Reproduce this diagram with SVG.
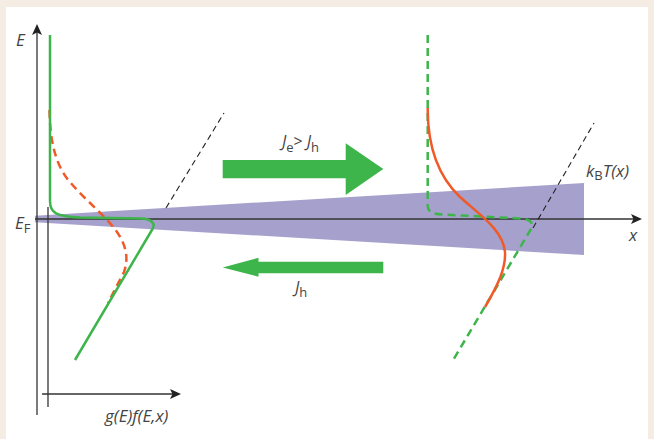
<svg xmlns="http://www.w3.org/2000/svg" width="654" height="439" viewBox="0 0 654 439">
<defs>
<style>
.ax{stroke:#333;stroke-width:1.3;fill:none}
.ah{fill:#222}
.g{stroke:#3db54a;stroke-width:2.5;fill:none;stroke-linecap:butt}
.gd{stroke:#3db54a;stroke-width:2.5;fill:none;stroke-dasharray:8 5}
.o{stroke:#f05a28;stroke-width:2.5;fill:none}
.od{stroke:#f05a28;stroke-width:2.5;fill:none;stroke-dasharray:8 5}
.kd{stroke:#222;stroke-width:1.1;fill:none;stroke-dasharray:6 4}
.big{fill:#3db54a}
text{font-family:"Open Sans","Liberation Sans",sans-serif;fill:#444}
.it{font-style:italic}
</style>
</defs>
<rect x="0" y="0" width="654" height="439" fill="#f5ece3"/>
<rect x="6" y="7" width="642" height="432" fill="#ffffff"/>
<g id="wedge">
<polygon points="35,215.8 584,183 584,255 35,222.2" fill="#a5a1cc"/>
</g>
<g id="axes">
<line class="ax" x1="37" y1="415" x2="37" y2="30"/>
<path class="ah" d="M37,24 L42,35 L37,32.5 L32,35 Z"/>
<line class="ax" x1="48" y1="207" x2="48" y2="407"/>
<line class="ax" x1="42" y1="394" x2="175" y2="394"/>
<path class="ah" d="M181,394 L170,399 L172.5,394 L170,389 Z"/>
<line class="ax" x1="35" y1="219" x2="636" y2="219"/>
<path class="ah" d="M642,219 L631,224 L633.5,219 L631,214 Z"/>
</g>
<g id="connectors">
<line class="kd" x1="166" y1="208" x2="224" y2="113"/>
<line class="kd" x1="533" y1="228" x2="594" y2="123"/>
</g>
<g id="left-curves">
<path class="od" d="M49.5,110 C50,140 55,165 70,182 C85,200 105,215 117,232 C126,245 129,258 124,272 L108,303"/>
<path class="g" d="M50,35 L50,201 C50,213 56,216.5 80,217.5 L141,218.5 C151,219 156,223 152.5,229 L75,360"/>
</g>
<g id="right-curves">
<path class="gd" d="M427.7,35 L427.7,205 C427.7,212 432,214 443,214.5 L520,218.5 C530,219 534,223 531,229 L452,362"/>
<path class="o" d="M427.7,108 C427.5,150 440,178 460,197 C480,215 503,230 505,252 C506,268 498,285 485,307"/>
</g>
<g id="arrow-right">
<polygon class="big" points="222.7,160 345.7,160 345.7,143.3 383.3,169 345.7,195 345.7,178.3 222.7,178.3"/>
</g>
<g id="arrow-left">
<polygon class="big" points="383.3,261.7 258.5,261.7 258.5,257.7 222.7,267.5 258.5,276.7 258.5,273.3 383.3,273.3"/>
</g>
<g id="labels">
<text x="16" y="46" font-size="17" class="it">E</text>
<text x="15" y="229" font-size="17" class="it">E<tspan font-size="13" font-style="normal" dy="4">F</tspan></text>
<text x="282" y="147" font-size="16" class="it">J<tspan font-size="13" font-style="normal" dy="5">e</tspan><tspan font-style="normal" dy="-5">&gt;</tspan><tspan dx="4">J</tspan><tspan font-size="13" font-style="normal" dy="5">h</tspan></text>
<text x="295" y="293" font-size="16" class="it">J<tspan font-size="13" font-style="normal" dy="4">h</tspan></text>
<text x="586" y="177" font-size="17" class="it">k<tspan font-size="13" font-style="normal" dy="3">B</tspan><tspan dy="-3">T(x)</tspan></text>
<text x="629" y="241" font-size="17" class="it">x</text>
<text x="105" y="422" font-size="17" class="it">g(E)f(E,x)</text>
</g>
</svg>
